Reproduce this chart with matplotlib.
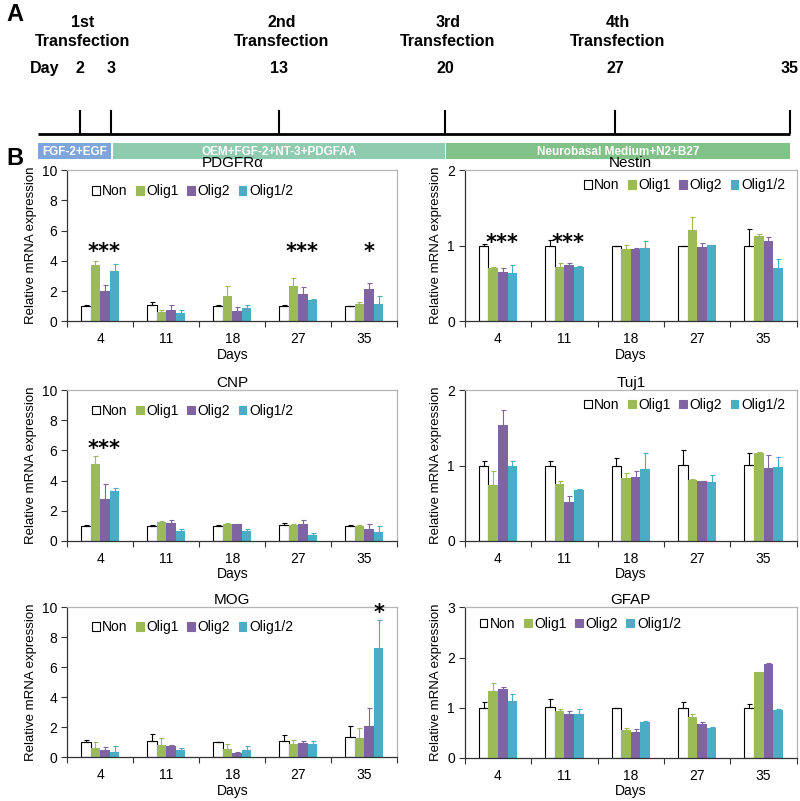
import numpy as np
import matplotlib
matplotlib.use("Agg")
import matplotlib.pyplot as plt
from matplotlib.patches import Patch

plt.rcParams['font.family'] = ['Liberation Sans', 'DejaVu Sans']

# ---- panel A: timeline ----
tl_days = ["2", "3", "13", "20", "27", "35"]
tl_pos = [80, 111, 279, 445, 615, 790]          # schematic (not to scale)
transfections = ["1st\nTransfection", "2nd\nTransfection", "3rd\nTransfection", "4th\nTransfection"]
transfection_days = ["2", "13", "20", "27"]
media = ["FGF-2+EGF", "OEM+FGF-2+NT-3+PDGFAA", "Neurobasal Medium+N2+B27"]
media_span = [(38, 111), (113, 445), (446, 790)]
media_colors = ["#7fa6db", "#8fcbaf", "#82c187"]

# ---- panel B: qPCR ----
days = ["4", "11", "18", "27", "35"]
groups = ["Non", "Olig1", "Olig2", "Olig1/2"]
colors = ["white", "#9bbb59", "#8064a2", "#4bacc6"]
err_colors = ["black", "#9bbb59", "#8064a2", "#4bacc6"]

# values[group][day], err = upper SD
pdgfra = [[1.0, 1.05, 1.0, 1.0, 1.0],
          [3.75, 0.6, 1.65, 2.35, 1.15],
          [2.0, 0.75, 0.7, 1.8, 2.15],
          [3.3, 0.55, 0.9, 1.4, 1.15]]
pdgfra_err = [[0.1, 0.25, 0.05, 0.05, 0.02],
              [0.25, 0.15, 0.65, 0.5, 0.1],
              [0.4, 0.35, 0.25, 0.45, 0.4],
              [0.5, 0.2, 0.15, 0.1, 0.5]]

nestin = [[1.0, 1.0, 1.0, 1.0, 1.0],
          [0.70, 0.72, 0.96, 1.21, 1.13],
          [0.65, 0.74, 0.96, 0.98, 1.06],
          [0.64, 0.72, 0.97, 1.01, 0.70]]
nestin_err = [[0.02, 0.075, 0.0, 0.0, 0.215],
              [0.02, 0.05, 0.05, 0.17, 0.025],
              [0.05, 0.025, 0.01, 0.05, 0.05],
              [0.10, 0.015, 0.095, 0.0, 0.13]]

cnp = [[1.0, 1.0, 1.0, 1.05, 1.0],
       [5.1, 1.25, 1.1, 1.05, 1.0],
       [2.75, 1.2, 1.1, 1.1, 0.8],
       [3.3, 0.68, 0.65, 0.4, 0.6]]
cnp_err = [[0.03, 0.05, 0.08, 0.15, 0.05],
           [0.55, 0.08, 0.08, 0.1, 0.05],
           [1.05, 0.2, 0.05, 0.3, 0.3],
           [0.22, 0.1, 0.12, 0.15, 0.4]]

tuj1 = [[1.0, 1.0, 1.0, 1.01, 1.01],
        [0.74, 0.76, 0.84, 0.81, 1.17],
        [1.54, 0.52, 0.85, 0.79, 0.97],
        [0.99, 0.68, 0.95, 0.78, 0.98]]
tuj1_err = [[0.06, 0.06, 0.10, 0.20, 0.15],
            [0.19, 0.04, 0.06, 0.01, 0.015],
            [0.19, 0.075, 0.075, 0.005, 0.175],
            [0.07, 0.005, 0.21, 0.10, 0.13]]

mog = [[1.0, 1.05, 1.0, 1.05, 1.35],
       [0.6, 0.8, 0.55, 0.9, 1.25],
       [0.45, 0.75, 0.25, 0.95, 2.1],
       [0.35, 0.45, 0.5, 0.85, 7.3]]
mog_err = [[0.16, 0.5, 0.02, 0.45, 0.75],
           [0.38, 0.45, 0.33, 0.23, 0.72],
           [0.25, 0.08, 0.07, 0.1, 1.2],
           [0.36, 0.16, 0.24, 0.25, 1.85]]

gfap = [[1.0, 1.01, 1.0, 1.0, 1.0],
        [1.34, 0.94, 0.56, 0.81, 1.71],
        [1.37, 0.87, 0.52, 0.67, 1.88],
        [1.13, 0.87, 0.71, 0.59, 0.95]]
gfap_err = [[0.11, 0.16, 0.0, 0.12, 0.07],
            [0.15, 0.04, 0.04, 0.06, 0.005],
            [0.05, 0.07, 0.06, 0.055, 0.02],
            [0.14, 0.10, 0.02, 0.02, 0.025]]

# stars: (day index, x offset in bar widths, y, text)
pdgfra_stars = [(0, 0.4, 4.6, "***"), (3, 0.4, 4.6, "***"), (4, 0.5, 4.6, "*")]
nestin_stars = [(0, 0.4, 1.03, "***"), (1, 0.4, 1.03, "***")]
cnp_stars = [(0, 0.4, 6.1, "***")]
mog_stars = [(4, 1.5, 9.6, "*")]

fig = plt.figure(figsize=(8, 8.01), dpi=100)

# timeline
ax0 = fig.add_axes([0, 0.79, 1, 0.21])
ax0.set_xlim(0, 800)
ax0.set_ylim(168, 0)
ax0.axis("off")
ax0.plot([tl_pos[0] - 42, tl_pos[-1]], [134, 134], color="black", lw=2, solid_capstyle="butt")
ax0.vlines(tl_pos, 110, 134, color="black", lw=1.5)
bold_narrow = dict(family=['Liberation Sans Narrow', 'Liberation Sans', 'DejaVu Sans'], fontweight="bold")
ax0.text(45, 68, "Day", ha="center", va="center", fontsize=11.5, **bold_narrow)
for d, x in zip(tl_days, tl_pos):
    ax0.text(x, 68, d, ha="center", va="center", fontsize=11.5, **bold_narrow)
for t, d in zip(transfections, transfection_days):
    x = tl_pos[tl_days.index(d)]
    ax0.text(x + 3, 32, t, ha="center", va="center", fontsize=11.5, linespacing=1.4, **bold_narrow)
for m, (x0, x1), c in zip(media, media_span, media_colors):
    ax0.add_patch(plt.Rectangle((x0, 143), x1 - x0, 16, color=c, lw=0))
    ax0.text((x0 + x1) / 2, 151.5, m, ha="center", va="center", fontsize=8.5, color="white", **bold_narrow)
ax0.text(15, 14, "A", ha="center", va="center", fontsize=17, fontweight="bold")
ax0.text(15, 158, "B", ha="center", va="center", fontsize=17, fontweight="bold")

panels = [
    ("PDGFRα", pdgfra, pdgfra_err, 10, [0, 2, 4, 6, 8, 10], pdgfra_stars, [0.084, 0.599, 0.4125, 0.1885],
     ("center left", (0.075, 0.86))),
    ("Nestin", nestin, nestin_err, 2, [0, 1, 2], nestin_stars, [0.581, 0.599, 0.415, 0.1885],
     ("center right", (0.965, 0.9))),
    ("CNP", cnp, cnp_err, 10, [0, 2, 4, 6, 8, 10], cnp_stars, [0.084, 0.3246, 0.4125, 0.1885],
     ("center left", (0.075, 0.86))),
    ("Tuj1", tuj1, tuj1_err, 2, [0, 1, 2], [], [0.581, 0.3246, 0.415, 0.1885],
     ("center right", (0.965, 0.9))),
    ("MOG", mog, mog_err, 10, [0, 2, 4, 6, 8, 10], mog_stars, [0.084, 0.0549, 0.4125, 0.187],
     ("center left", (0.075, 0.865))),
    ("GFAP", gfap, gfap_err, 3, [0, 1, 2, 3], [], [0.581, 0.0537, 0.415, 0.188],
     ("center left", (0.045, 0.89))),
]

w = 0.145
x = np.arange(len(days))
for title, vals, errs, ymax, yt, stars, rect, (loc, anchor) in panels:
    ax = fig.add_axes(rect)
    for i, g in enumerate(groups):
        xs = x + (i - 1.5) * w
        ax.bar(xs, vals[i], w, color=colors[i], edgecolor="black" if i == 0 else colors[i],
               linewidth=0.8 if i == 0 else 0, zorder=2)
        ax.errorbar(xs, vals[i], yerr=[np.zeros(len(days)), errs[i]], fmt="none",
                    ecolor=err_colors[i], elinewidth=0.8, capsize=1.8, capthick=0.8, zorder=3)
    for di, off, yy, s in stars:
        ax.text(di + off * w, yy, s, ha="center", va="center", fontsize=15, fontweight="bold",
                family=["DejaVu Sans"])
    ax.set_xlim(-0.5, 4.5)
    ax.set_ylim(0, ymax)
    ax.set_yticks(yt)
    ax.set_xticks(x)
    ax.set_xticklabels(days)
    ax.set_xticks(np.arange(-0.5, 5, 1), minor=True)
    ax.tick_params(axis="x", which="major", length=0, labelsize=10, pad=8)
    ax.tick_params(axis="x", which="minor", length=4, width=0.8, direction="out", color="#333333")
    ax.tick_params(axis="y", length=4, width=0.8, labelsize=10, pad=3, color="#333333")
    for sp in ["top", "right"]:
        ax.spines[sp].set_color("#b5b5b5")
        ax.spines[sp].set_linewidth(0.9)
    for sp in ["left", "bottom"]:
        ax.spines[sp].set_color("#333333")
        ax.spines[sp].set_linewidth(0.9)
    ax.set_title(title, fontsize=11, pad=2)
    ax.set_xlabel("Days", fontsize=10, labelpad=1)
    ax.set_ylabel("Relative mRNA expression", fontsize=9.5, labelpad=4)
    handles = [Patch(facecolor=colors[i], edgecolor="black" if i == 0 else colors[i], linewidth=0.8)
               for i in range(len(groups))]
    ax.legend(handles, groups, loc=loc, bbox_to_anchor=anchor, ncol=4, frameon=False, fontsize=10,
              handlelength=0.55, handleheight=0.55, handletextpad=0.2, columnspacing=0.6,
              borderaxespad=0, borderpad=0)

fig.savefig("out.png", dpi=100)
